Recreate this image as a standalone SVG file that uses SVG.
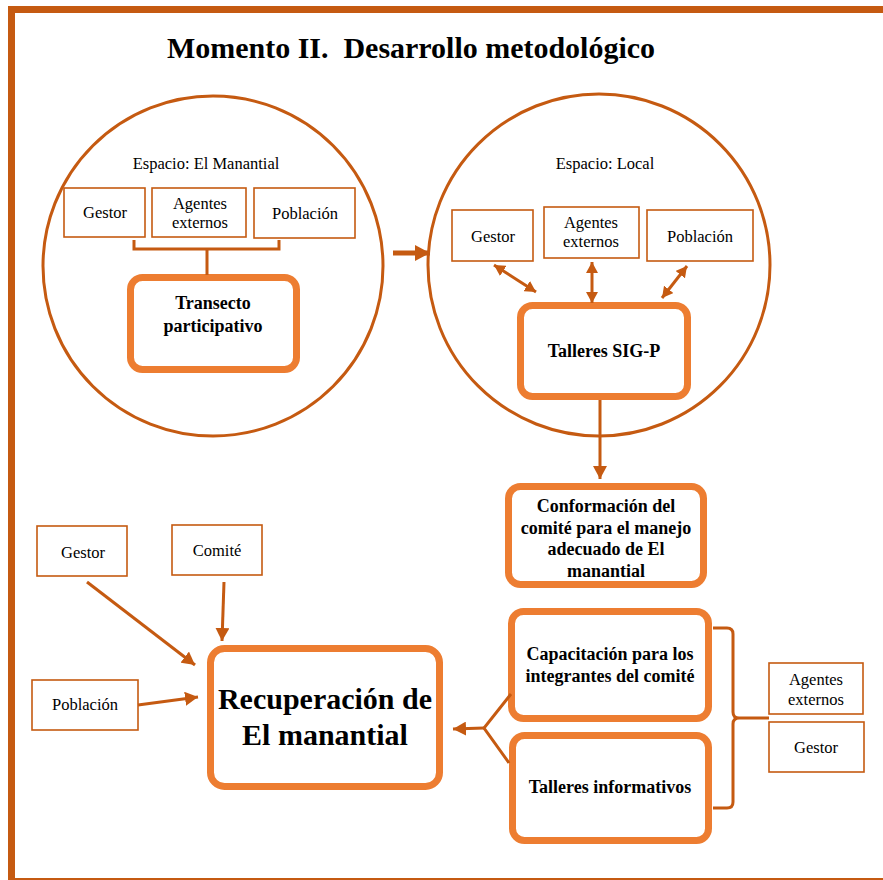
<svg xmlns="http://www.w3.org/2000/svg" width="883" height="880" viewBox="0 0 883 880">
<style>
  .t{font-family:"Liberation Serif","Times New Roman",serif;fill:#000;text-anchor:middle}
  .r{font-size:16.5px}
  .b{font-size:18px;font-weight:bold}
  .thin{fill:#fff;stroke:#C55A11;stroke-width:1.6}
  .thick{fill:#fff;stroke:#ED7D31;stroke-width:7}
  .circ{fill:none;stroke:#C55A11;stroke-width:3}
  .con{fill:none;stroke:#C55A11;stroke-width:3}
</style>
<defs>
  <marker id="ah" markerUnits="userSpaceOnUse" markerWidth="14" markerHeight="14" refX="13" refY="7" orient="auto-start-reverse">
    <path d="M0,0 L13,7 L0,14 z" fill="#C55A11"/>
  </marker>
  <marker id="ahs" markerUnits="userSpaceOnUse" markerWidth="12" markerHeight="12" refX="11" refY="6" orient="auto-start-reverse">
    <path d="M0,0 L11,6 L0,12 z" fill="#C55A11"/>
  </marker>
  <marker id="ahb" markerUnits="userSpaceOnUse" markerWidth="16" markerHeight="16" refX="15" refY="8" orient="auto">
    <path d="M0,0 L15,8 L0,16 z" fill="#C55A11"/>
  </marker>
</defs>
<rect width="883" height="880" fill="#fff"/>
<path d="M890,9.5 H11.5 V881.5 H890" fill="none" stroke="#C55A11" stroke-width="7"/>
<text class="t" x="411" y="58" style="font-size:30px;font-weight:bold" textLength="488" lengthAdjust="spacingAndGlyphs" xml:space="preserve">Momento II.  Desarrollo metodológico</text>

<g id="espacio-manantial">
  <circle class="circ" cx="213" cy="266" r="170"/>
  <text class="t r" x="206" y="169">Espacio: El Manantial</text>
</g>
<g id="espacio-local">
  <circle class="circ" cx="599" cy="265" r="171"/>
  <text class="t r" x="605" y="169">Espacio: Local</text>
</g>

<g id="m-gestor"><rect class="thin" x="64" y="188" width="81" height="49"/><text class="t r" x="105" y="218">Gestor</text></g>
<g id="m-agentes"><rect class="thin" x="152" y="188" width="94" height="49"/><text class="t r" x="200" y="209">Agentes</text><text class="t r" x="200" y="228">externos</text></g>
<g id="m-poblacion"><rect class="thin" x="254" y="188" width="101" height="50"/><text class="t r" x="305" y="219">Población</text></g>
<g id="transecto"><rect class="thick" x="130.5" y="277.5" width="166" height="92" rx="12"/><text class="t b" x="213" y="309">Transecto</text><text class="t b" x="213" y="332">participativo</text></g>

<g id="l-gestor"><rect class="thin" x="452" y="210" width="81" height="51"/><text class="t r" x="493" y="242">Gestor</text></g>
<g id="l-agentes"><rect class="thin" x="544" y="207" width="95" height="51"/><text class="t r" x="591" y="228">Agentes</text><text class="t r" x="591" y="247">externos</text></g>
<g id="l-poblacion"><rect class="thin" x="647" y="210" width="106" height="51"/><text class="t r" x="700" y="242">Población</text></g>
<g id="talleres-sigp"><rect class="thick" x="520.5" y="305.5" width="167" height="91" rx="12"/><text class="t b" x="604" y="357">Talleres SIG-P</text></g>

<g id="conformacion"><rect class="thick" x="508.5" y="486.5" width="195" height="98" rx="12"/>
  <text class="t b" x="606" y="512">Conformación del</text>
  <text class="t b" x="606" y="534">comité para el manejo</text>
  <text class="t b" x="606" y="555">adecuado de El</text>
  <text class="t b" x="606" y="577">manantial</text>
</g>

<g id="b-gestor"><rect class="thin" x="37" y="526" width="90" height="50"/><text class="t r" x="83" y="558">Gestor</text></g>
<g id="b-comite"><rect class="thin" x="172" y="525" width="90" height="50"/><text class="t r" x="217" y="556">Comité</text></g>
<g id="b-poblacion"><rect class="thin" x="32" y="680" width="106" height="50"/><text class="t r" x="85" y="710">Población</text></g>
<g id="recuperacion"><rect class="thick" x="210.5" y="648.5" width="229" height="138" rx="14"/>
  <text class="t" x="325" y="709" style="font-size:30px;font-weight:bold">Recuperación de</text>
  <text class="t" x="325" y="745" style="font-size:30px;font-weight:bold">El manantial</text>
</g>

<g id="capacitacion"><rect class="thick" x="511.5" y="611.5" width="197" height="107" rx="12"/>
  <text class="t b" x="610" y="660">Capacitación para los</text>
  <text class="t b" x="610" y="682">integrantes del comité</text>
</g>
<g id="talleres-informativos"><rect class="thick" x="512.5" y="735.5" width="196" height="105" rx="12"/>
  <text class="t b" x="610" y="793">Talleres informativos</text>
</g>
<g id="r-agentes"><rect class="thin" x="769" y="663" width="94" height="51"/><text class="t r" x="816" y="685">Agentes</text><text class="t r" x="816" y="705">externos</text></g>
<g id="r-gestor"><rect class="thin" x="769" y="722" width="95" height="50"/><text class="t r" x="816" y="753">Gestor</text></g>

<g id="connectors">
  <path class="con" d="M134,240 V249 H279 V240 M207,249 V275"/>
  <line x1="393" y1="253" x2="430" y2="253" stroke="#C55A11" stroke-width="5" marker-end="url(#ahb)"/>
  <line class="con" x1="494" y1="265" x2="536" y2="292" marker-start="url(#ahs)" marker-end="url(#ahs)"/>
  <line class="con" x1="592" y1="262" x2="592" y2="303" marker-start="url(#ahs)" marker-end="url(#ahs)"/>
  <line class="con" x1="687" y1="266" x2="662" y2="298" marker-start="url(#ahs)" marker-end="url(#ahs)"/>
  <line class="con" x1="600" y1="400" x2="600" y2="479" marker-end="url(#ah)"/>
  <line class="con" x1="87" y1="582" x2="195" y2="665" marker-end="url(#ah)"/>
  <line class="con" x1="224" y1="582" x2="222" y2="641" marker-end="url(#ah)"/>
  <line class="con" x1="138" y1="705" x2="198" y2="697" marker-end="url(#ah)"/>
  <path class="con" d="M511,694 L484,728 L509,763"/>
  <line class="con" x1="484" y1="728" x2="453" y2="729" marker-end="url(#ah)"/>
  <path class="con" d="M713,628 H727 Q733,628 733,634 V712 Q733,718 739,718 H769 M739,718 Q733,718 733,724 V802 Q733,808 727,808 H713"/>
</g>
</svg>
